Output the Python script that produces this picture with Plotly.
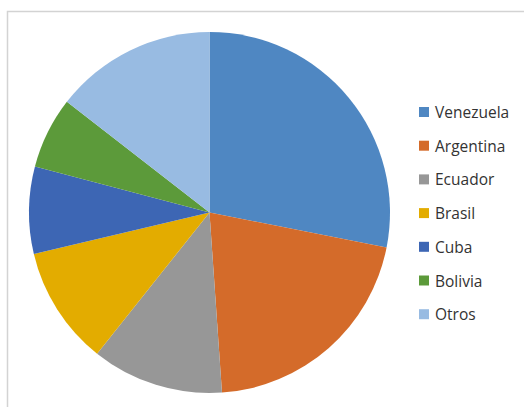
import plotly.graph_objects as go

# Share by country (%)
countries = ["Venezuela", "Argentina", "Ecuador", "Brasil", "Cuba", "Bolivia", "Otros"]
shares = [28.1, 20.8, 11.8, 10.6, 7.8, 6.4, 14.5]
colors = ["#4f87c2", "#d46b2a", "#979797", "#e3ac00", "#3d66b4", "#5c9a3a", "#98bbe2"]

W, H = 524, 407
cx, cy, r = 209.5, 212.5, 180.5

fig = go.Figure(
    go.Pie(
        labels=countries,
        values=shares,
        sort=False,
        direction="clockwise",
        rotation=0,
        marker=dict(colors=colors, line=dict(width=0)),
        textinfo="none",
        hoverinfo="label+percent",
        showlegend=False,
        domain=dict(x=[(cx - r) / W, (cx + r) / W], y=[1 - (cy + r) / H, 1 - (cy - r) / H]),
    )
)

shapes = [
    # chart frame
    dict(type="rect", xref="paper", yref="paper",
         x0=7.5 / W, x1=1.2, y0=-0.2, y1=1 - 11.5 / H,
         line=dict(color="#d3d3d3", width=1.5), fillcolor="rgba(0,0,0,0)", layer="below"),
]
annotations = []

# legend: colour square + label per country
y0, step = 112, 33.7
for i, (name, col) in enumerate(zip(countries, colors)):
    yc = y0 + i * step
    shapes.append(dict(type="rect", xref="paper", yref="paper",
                       x0=419 / W, x1=429 / W, y0=1 - (yc + 5) / H, y1=1 - (yc - 5) / H,
                       line=dict(width=0), fillcolor=col))
    annotations.append(dict(x=433 / W, y=1 - yc / H, xref="paper", yref="paper",
                            text=name, showarrow=False, xanchor="left", yanchor="middle",
                            font=dict(family="Open Sans", size=15.5, color="#333333")))

fig.update_layout(
    width=W, height=H,
    margin=dict(l=0, r=0, t=0, b=0),
    paper_bgcolor="white", plot_bgcolor="white",
    shapes=shapes, annotations=annotations,
)

fig.write_html("out.html")
